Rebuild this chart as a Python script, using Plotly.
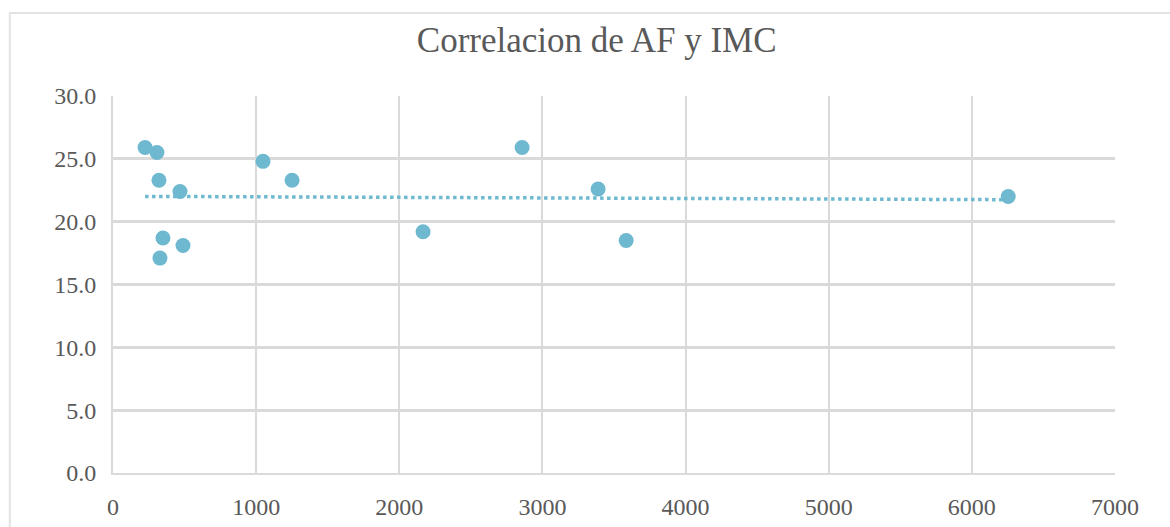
import numpy as np
import plotly.graph_objects as go

# Actividad física (AF) vs índice de masa corporal (IMC)
af = [224, 307, 321, 349, 328, 468, 489, 1048, 1251, 2166, 2858, 3389, 3585, 6254]
imc = [25.9, 25.5, 23.3, 18.7, 17.1, 22.4, 18.1, 24.8, 23.3, 19.2, 25.9, 22.6, 18.5, 22.0]

title_text = "Correlacion de AF y IMC"
x_ticks = [0, 1000, 2000, 3000, 4000, 5000, 6000, 7000]
y_ticks = [0, 5, 10, 15, 20, 25, 30]

color = "#6FB9D0"
grid = "#DADADA"
font_name = "Liberation Serif"

# Linear trend line fitted to the data
slope, intercept = np.polyfit(af, imc, 1)
tx = np.array([min(af), max(af)])
ty = slope * tx + intercept

fig = go.Figure()
fig.add_trace(go.Scatter(x=tx, y=ty, mode="lines",
                         line=dict(color=color, width=3.5, dash="dot"),
                         hoverinfo="skip", showlegend=False))
fig.add_trace(go.Scatter(x=af, y=imc, mode="markers",
                         marker=dict(color=color, size=15, line=dict(width=0)),
                         showlegend=False))

fig.update_layout(
    width=1170, height=527,
    paper_bgcolor="white", plot_bgcolor="white",
    margin=dict(l=113, r=55, t=96, b=54),
    title=dict(text=title_text, x=0.51, xanchor="center", y=0.925, yanchor="middle",
               font=dict(family=font_name, size=35, color="#595959")),
    font=dict(family=font_name, size=24, color="#595959"),
    xaxis=dict(range=[0, 7000], tickvals=x_ticks, ticktext=[str(v) for v in x_ticks],
               showgrid=True, gridcolor=grid, gridwidth=2, zeroline=False,
               showline=True, linecolor=grid, linewidth=2, mirror=False,
               ticks="outside", ticklen=11, tickcolor="rgba(0,0,0,0)",
               automargin=False),
    yaxis=dict(range=[0, 30], tickvals=y_ticks, ticktext=[f"{v:.1f}" for v in y_ticks],
               showgrid=True, gridcolor=grid, gridwidth=2.5, zeroline=False,
               showline=True, linecolor=grid, linewidth=2,
               ticks="outside", ticklen=10, tickcolor="rgba(0,0,0,0)",
               automargin=False),
    shapes=[dict(type="rect", xref="paper", yref="paper",
                 x0=-0.103, x1=1.2, y0=-0.3, y1=1.22,
                 line=dict(color="#E3E3E3", width=2), layer="below")],
)

fig.write_html("out.html")
